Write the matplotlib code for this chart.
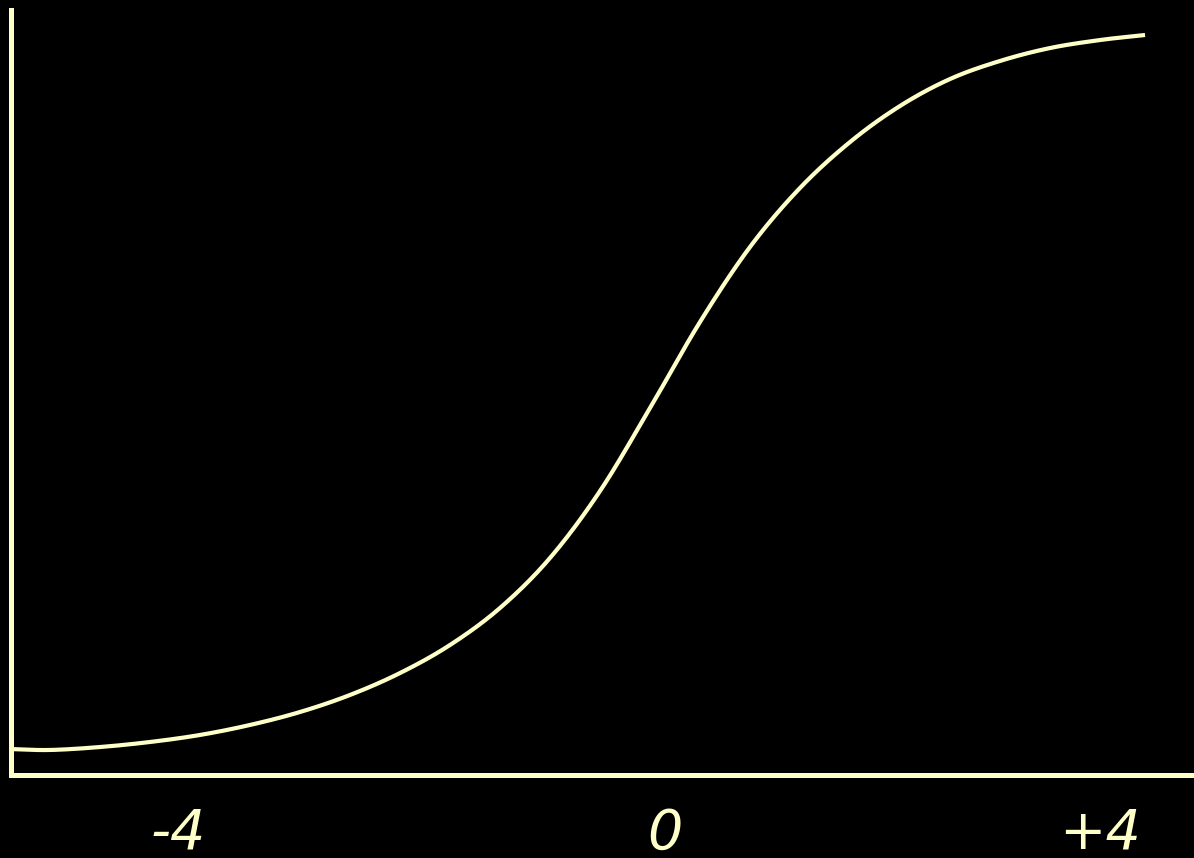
import matplotlib
matplotlib.use("Agg")
import matplotlib.pyplot as plt
import numpy as np

# Curve (ability scale theta, probability scale p)
theta = [-5.388, -5.058, -4.645, -4.231, -3.818, -3.405, -2.992, -2.579, -2.165, -1.752,
         -1.339, -0.926, -0.512, -0.099, 0.314, 0.727, 1.140, 1.554, 1.967, 2.380,
         2.793, 3.207, 3.620, 3.992]
prob = [0.0351, 0.0338, 0.0378, 0.0446, 0.0541, 0.0676, 0.0851, 0.1081, 0.1378, 0.1757,
        0.2257, 0.2932, 0.3838, 0.4959, 0.6122, 0.7135, 0.7932, 0.8554, 0.9041, 0.9405,
        0.9649, 0.9824, 0.9932, 1.0000]

tick_pos = [-4, 0.02, 3.62]
tick_labels = ["-4", "0", "+4"]

fg = "#FFFFC8"
W, H = 1194, 858
fig = plt.figure(figsize=(W / 100, H / 100), dpi=100, facecolor="black")
left_px, bottom_px, top_px = 10.5, 775, 10
ax = fig.add_axes([left_px / W, (H - bottom_px) / H, 1 - left_px / W, (bottom_px - top_px) / H])
ax.set_facecolor("black")

px_per_x = 121.0
x0_px = 662.0
ax.set_xlim((left_px - x0_px) / px_per_x, (W - x0_px) / px_per_x)
ax.set_ylim(0, (bottom_px - top_px) / 740.0)


def smooth_line(xs, ys, n=20):
    """Catmull-Rom rendering through the read points (line style only)."""
    xs = np.asarray(xs, float)
    ys = np.asarray(ys, float)
    px = np.concatenate([[2 * xs[0] - xs[1]], xs, [2 * xs[-1] - xs[-2]]])
    py = np.concatenate([[2 * ys[0] - ys[1]], ys, [2 * ys[-1] - ys[-2]]])
    outx, outy = [], []
    t = np.linspace(0, 1, n, endpoint=False)
    for i in range(1, len(px) - 2):
        for arr, out in ((px, outx), (py, outy)):
            p0, p1, p2, p3 = arr[i - 1], arr[i], arr[i + 1], arr[i + 2]
            out.extend(0.5 * ((2 * p1) + (-p0 + p2) * t
                              + (2 * p0 - 5 * p1 + 4 * p2 - p3) * t ** 2
                              + (-p0 + 3 * p1 - 3 * p2 + p3) * t ** 3))
    outx.append(xs[-1])
    outy.append(ys[-1])
    return np.array(outx), np.array(outy)


sx, sy = smooth_line(theta, prob)
ax.plot(sx, sy, color=fg, lw=3.0, solid_capstyle="butt", solid_joinstyle="round", clip_on=False)

for s in ["top", "right"]:
    ax.spines[s].set_visible(False)
for s in ["left", "bottom"]:
    ax.spines[s].set_color(fg)
    ax.spines[s].set_linewidth(3.6)

ax.set_yticks([])
ax.set_xticks(tick_pos)
ax.set_xticklabels(tick_labels, fontstyle="italic", fontsize=40, color=fg, family="DejaVu Sans")
ax.tick_params(axis="x", length=0, pad=23)

fig.savefig("out.png", dpi=100, facecolor="black")
